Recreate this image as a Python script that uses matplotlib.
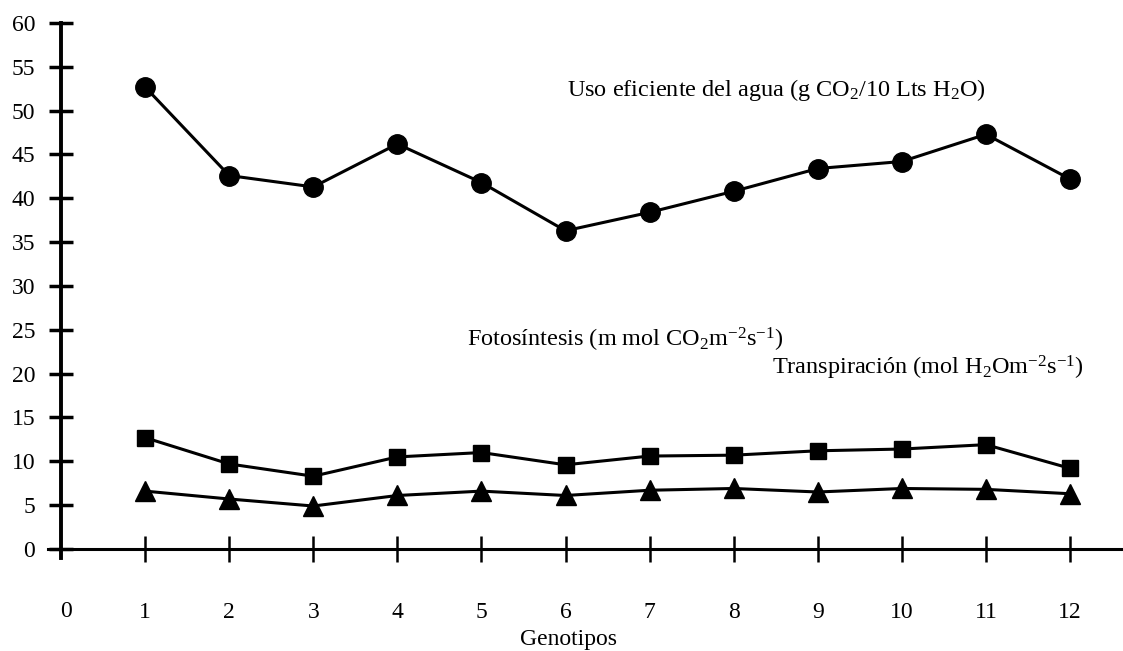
import numpy as np
import matplotlib.pyplot as plt

plt.rcParams['font.family'] = ['Liberation Serif', 'DejaVu Serif']
plt.rcParams['mathtext.fontset'] = 'custom'
plt.rcParams['mathtext.rm'] = 'Liberation Serif'
plt.rcParams['mathtext.it'] = 'Liberation Serif:italic'

genotipos = np.arange(1, 13)
uso_agua = [52.7, 42.6, 41.3, 46.2, 41.8, 36.3, 38.4, 40.8, 43.4, 44.2, 47.3, 42.2]
fotosintesis = [12.7, 9.7, 8.3, 10.5, 11.0, 9.6, 10.6, 10.7, 11.2, 11.4, 11.9, 9.2]
transpiracion = [6.6, 5.7, 4.9, 6.1, 6.6, 6.1, 6.7, 6.9, 6.5, 6.9, 6.8, 6.3]

fig = plt.figure(figsize=(11.23, 6.51), dpi=100)
ax = fig.add_axes([61 / 1123, 1 - 558 / 651, 1 - 61 / 1123, (558 - 23) / 651])

ax.plot(genotipos, uso_agua, color='black', lw=2.2, marker='o', ms=14)
ax.plot(genotipos, fotosintesis, color='black', lw=2.2, marker='s', ms=11.5)
ax.plot(genotipos, transpiracion, color='black', lw=2.2, marker='^', ms=14)

ax.set_xlim(0, 12.63)
ax.set_ylim(-1.03, 60)

for s in ['top', 'right']:
    ax.spines[s].set_visible(False)
ax.spines['left'].set_position(('data', 0))
ax.spines['bottom'].set_position(('data', 0))
ax.spines['left'].set_linewidth(2.8)
ax.spines['bottom'].set_linewidth(2.2)
ax.spines['bottom'].set_bounds(-0.15, 12.63)
ax.set_clip_on(False)

ax.set_yticks(np.arange(0, 61, 5))
ax.tick_params(axis='y', direction='inout', length=17, width=2.5, pad=10, labelsize=17)
ax.set_xticks(genotipos)
ax.tick_params(axis='x', direction='inout', length=19, width=1.8, pad=29, labelsize=17)
ax.text(0.06, -7.1, '0', ha='center', va='center', fontsize=17)

ax.text(6.04, -10.3, 'Genotipos', ha='center', va='center', fontsize=17)

ax.text(6.02, 52.4, r'Uso eficiente del agua (g CO$_2$/10 Lts H$_2$O)',
        ha='left', va='center', fontsize=17.5)
ax.text(4.83, 23.9, r'Fotosíntesis (m mol CO$_2$m$^{-2}$s$^{-1}$)',
        ha='left', va='center', fontsize=17.5)
ax.text(8.45, 20.6, r'Transpiración (mol H$_2$Om$^{-2}$s$^{-1}$)',
        ha='left', va='center', fontsize=17.5)

plt.savefig('out.png', dpi=100)
